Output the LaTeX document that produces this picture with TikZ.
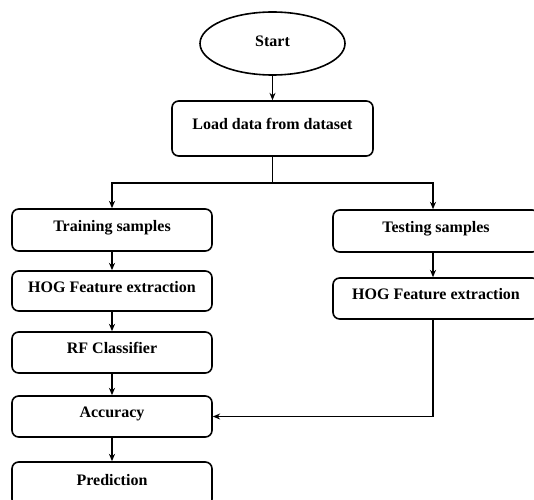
\documentclass[tikz,border=0pt]{standalone}
\usepackage{fontspec}
\setmainfont{Liberation Serif}
\usetikzlibrary{shapes.geometric,arrows.meta}

\tikzset{
  stepbox/.style={draw, line width=1.2pt, rounded corners=5, font=\bfseries\fontsize{12}{14}\selectfont,
    text height=8.5pt, text depth=6.5pt, inner sep=0pt},
  flowarrow/.style={line width=1.2pt, -{Stealth[length=5.5pt,width=4.5pt]}},
  flowline/.style={line width=1.2pt}
}

\begin{document}
\begin{tikzpicture}[x=0.75pt,y=0.75pt,yscale=-1,xscale=1]
\clip (0,0) rectangle (534,499); %set diagram size 534 x 499

%Shape: Ellipse
\node (start) [ellipse, draw, line width=1.2pt, minimum width=145*0.75pt, minimum height=63*0.75pt,
  font=\bfseries\fontsize{12}{14}\selectfont, text height=8.5pt, text depth=4.5pt, inner sep=0pt] at (272.5,43.5) {Start};
%Shape: Rounded Rectangle
\node (load) [stepbox, minimum width=201*0.75pt, minimum height=55*0.75pt] at (272.5,128.5) {Load data from dataset};

%Shape: Rounded Rectangle
\node (train) [stepbox, minimum width=200*0.75pt, minimum height=42*0.75pt] at (112,230) {Training samples};
%Shape: Rounded Rectangle
\node (hogtrain) [stepbox, minimum width=200*0.75pt, minimum height=40*0.75pt] at (112,291) {HOG Feature extraction};
%Shape: Rounded Rectangle
\node (rf) [stepbox, minimum width=200*0.75pt, minimum height=41*0.75pt] at (112,352.5) {RF Classifier};
%Shape: Rounded Rectangle
\node (acc) [stepbox, minimum width=200*0.75pt, minimum height=41*0.75pt] at (112,416.5) {Accuracy};
%Shape: Rounded Rectangle
\node (pred) [stepbox, minimum width=200*0.75pt, minimum height=44*0.75pt] at (112,484) {Prediction};

%Shape: Rounded Rectangle
\node (test) [stepbox, minimum width=206*0.75pt, minimum height=42*0.75pt] at (436,231) {Testing samples};
%Shape: Rounded Rectangle
\node (hogtest) [stepbox, minimum width=206*0.75pt, minimum height=41*0.75pt] at (436,298.5) {HOG Feature extraction};

% split point under the load box
\coordinate (split) at (272.5,183);
\coordinate (testtop) at (433,183);

%Straight Lines
\draw [flowarrow] (start) -- (load);
\draw [flowline] (load) -- (split);
\draw [flowarrow] (split) -| (train.north);
\draw [flowarrow] (split) -- (testtop) -- (testtop |- test.north);
\draw [flowarrow] (train) -- (hogtrain);
\draw [flowarrow] (hogtrain) -- (rf);
\draw [flowarrow] (rf) -- (acc);
\draw [flowarrow] (acc) -- (pred);
\draw [flowarrow] (testtop |- test.south) -- (testtop |- hogtest.north);
\draw [flowarrow] (testtop |- hogtest.south) |- (acc.east);

\end{tikzpicture}
\end{document}
